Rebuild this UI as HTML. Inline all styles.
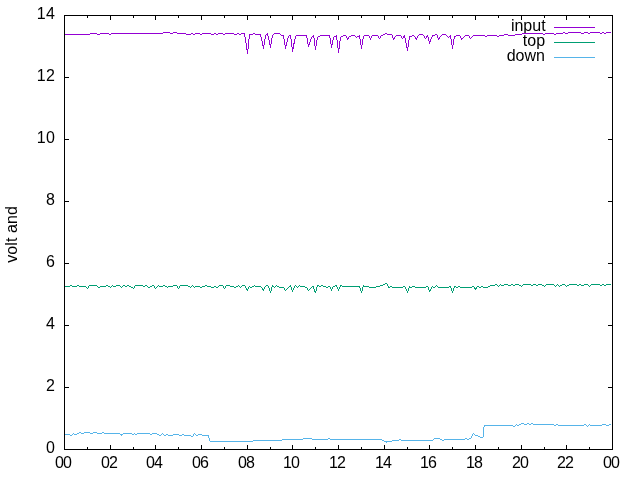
<!DOCTYPE html>
<html><head><meta charset="utf-8"><title>plot</title>
<style>
html,body{margin:0;padding:0;background:#fff;}
body{width:640px;height:480px;overflow:hidden;}
svg{display:block;will-change:transform;}
text{font-family:"Liberation Sans",sans-serif;font-size:16px;fill:#000;}
.n{letter-spacing:-0.55px;}
.w{letter-spacing:0.1px;}
</style></head><body>
<svg width="640" height="480" viewBox="0 0 640 480">
<rect x="0" y="0" width="640" height="480" fill="#ffffff"/>
<path d="M64.5 449.5v-4.5M64.5 15.5v4.5M87.5 449.5v-2.5M87.5 15.5v2.5M110.5 449.5v-4.5M110.5 15.5v4.5M133.5 449.5v-2.5M133.5 15.5v2.5M155.5 449.5v-4.5M155.5 15.5v4.5M178.5 449.5v-2.5M178.5 15.5v2.5M201.5 449.5v-4.5M201.5 15.5v4.5M224.5 449.5v-2.5M224.5 15.5v2.5M247.5 449.5v-4.5M247.5 15.5v4.5M270.5 449.5v-2.5M270.5 15.5v2.5M292.5 449.5v-4.5M292.5 15.5v4.5M315.5 449.5v-2.5M315.5 15.5v2.5M338.5 449.5v-4.5M338.5 15.5v4.5M361.5 449.5v-2.5M361.5 15.5v2.5M384.5 449.5v-4.5M384.5 15.5v4.5M407.5 449.5v-2.5M407.5 15.5v2.5M429.5 449.5v-4.5M429.5 15.5v4.5M452.5 449.5v-2.5M452.5 15.5v2.5M475.5 449.5v-4.5M475.5 15.5v4.5M498.5 449.5v-2.5M498.5 15.5v2.5M521.5 449.5v-4.5M521.5 15.5v4.5M544.5 449.5v-2.5M544.5 15.5v2.5M566.5 449.5v-4.5M566.5 15.5v4.5M589.5 449.5v-2.5M589.5 15.5v2.5M612.5 449.5v-4.5M612.5 15.5v4.5M64.5 449.5h4.5M612.5 449.5h-4.5M64.5 387.5h4.5M612.5 387.5h-4.5M64.5 325.5h4.5M612.5 325.5h-4.5M64.5 263.5h4.5M612.5 263.5h-4.5M64.5 201.5h4.5M612.5 201.5h-4.5M64.5 139.5h4.5M612.5 139.5h-4.5M64.5 77.5h4.5M612.5 77.5h-4.5M64.5 15.5h4.5M612.5 15.5h-4.5" stroke="#000" stroke-width="1" fill="none" shape-rendering="crispEdges"/>
<text x="55.00 63.10" y="468">00</text>
<text x="101.00 109.10" y="468">02</text>
<text x="146.00 154.10" y="468">04</text>
<text x="192.00 200.10" y="468">06</text>
<text x="238.00 246.10" y="468">08</text>
<text x="283.00 291.10" y="468">10</text>
<text x="329.00 337.10" y="468">12</text>
<text x="375.00 383.10" y="468">14</text>
<text x="420.00 428.10" y="468">16</text>
<text x="466.00 474.10" y="468">18</text>
<text x="512.00 520.10" y="468">20</text>
<text x="557.00 565.10" y="468">22</text>
<text x="603.00 611.10" y="468">00</text>
<text x="46.0" y="453.2">0</text>
<text x="46.0" y="391.2">2</text>
<text x="46.0" y="329.2">4</text>
<text x="46.0" y="267.2">6</text>
<text x="46.0" y="205.2">8</text>
<text x="36.8 46.0" y="143.2">10</text>
<text x="36.8 46.0" y="81.2">12</text>
<text x="36.8 46.0" y="19.2">14</text>
<text class="w" transform="translate(16.6,234.4) rotate(-90)" text-anchor="middle">volt and</text>
<text x="545.6" y="31.0" text-anchor="end">input</text>
<path d="M554 27.5H595" stroke="#9400d3" stroke-width="1" fill="none" shape-rendering="crispEdges"/>
<text x="545.1" y="46.0" text-anchor="end">top</text>
<path d="M554 42.5H595" stroke="#009e73" stroke-width="1" fill="none" shape-rendering="crispEdges"/>
<text x="544.9" y="61.0" text-anchor="end">down</text>
<path d="M554 57.5H595" stroke="#56b4e9" stroke-width="1" fill="none" shape-rendering="crispEdges"/>
<path d="M64 34h26v1h-26zM90 33h7v1h-7zM97 34h3v1h-3zM100 33h9v1h-9zM109 34h2v1h-2zM111 33h52v1h-52zM163 32h7v1h-7zM170 33h3v1h-3zM173 32h4v1h-4zM177 33h9v1h-9zM186 34h5v1h-5zM191 33h2v1h-2zM193 34h2v1h-2zM195 33h5v1h-5zM200 34h2v1h-2zM202 33h9v1h-9zM211 34h3v1h-3zM214 33h2v1h-2zM216 34h2v1h-2zM218 33h5v1h-5zM223 34h2v1h-2zM225 33h9v1h-9zM234 34h3v1h-3zM237 33h2v1h-2zM239 34h2v1h-2zM241 33h3v1h-3zM244 33h1v4h-1zM245 37h1v6h-1zM246 43h1v7h-1zM247 49h1v5h-1zM248 39h1v10h-1zM249 34h1v5h-1zM250 34h3v1h-3zM253 33h2v1h-2zM255 34h5v1h-5zM260 34h1v3h-1zM261 37h1v4h-1zM262 41h1v5h-1zM263 45h1v4h-1zM264 39h1v6h-1zM265 35h1v4h-1zM266 34h1v1h-1zM267 33h1v3h-1zM268 36h1v4h-1zM269 40h1v5h-1zM270 44h1v4h-1zM271 38h1v6h-1zM272 35h1v3h-1zM273 34h1v1h-1zM274 33h6v1h-6zM280 34h1v1h-1zM281 35h2v1h-2zM283 35h1v4h-1zM284 39h1v6h-1zM285 45h1v4h-1zM286 42h1v4h-1zM287 38h1v4h-1zM288 36h1v2h-1zM289 35h1v1h-1zM290 35h1v4h-1zM291 39h1v8h-1zM292 47h1v5h-1zM293 43h1v6h-1zM294 39h1v5h-1zM295 36h1v3h-1zM296 35h10v1h-10zM306 35h1v3h-1zM307 38h1v6h-1zM308 44h1v3h-1zM309 42h1v3h-1zM310 39h1v3h-1zM311 37h1v2h-1zM312 36h1v1h-1zM313 35h1v3h-1zM314 38h1v8h-1zM315 46h1v4h-1zM316 40h1v6h-1zM317 37h1v3h-1zM318 36h2v1h-2zM320 35h9v1h-9zM329 35h1v3h-1zM330 38h1v6h-1zM331 44h1v4h-1zM332 40h1v5h-1zM333 37h1v3h-1zM334 36h2v1h-2zM336 35h1v5h-1zM337 40h1v8h-1zM338 48h1v5h-1zM339 41h1v8h-1zM340 37h1v4h-1zM341 36h2v1h-2zM343 35h3v1h-3zM346 36h1v2h-1zM347 38h1v2h-1zM348 37h1v2h-1zM349 36h2v1h-2zM351 35h4v1h-4zM355 36h1v1h-1zM356 37h1v1h-1zM357 36h2v1h-2zM359 35h1v4h-1zM360 39h1v6h-1zM361 45h1v4h-1zM362 39h1v6h-1zM363 36h1v3h-1zM364 35h5v1h-5zM369 36h1v2h-1zM370 38h1v2h-1zM371 36h1v2h-1zM372 35h6v1h-6zM378 36h1v2h-1zM379 38h1v1h-1zM380 36h1v2h-1zM381 35h2v1h-2zM383 34h2v1h-2zM385 33h2v1h-2zM387 34h5v1h-5zM392 35h1v3h-1zM393 38h1v2h-1zM394 37h1v2h-1zM395 36h1v1h-1zM396 35h5v1h-5zM401 36h1v2h-1zM402 38h1v1h-1zM403 36h1v2h-1zM404 35h1v3h-1zM405 38h1v5h-1zM406 43h1v5h-1zM407 47h1v4h-1zM408 40h1v7h-1zM409 36h1v4h-1zM410 36h2v1h-2zM412 35h2v1h-2zM414 36h1v1h-1zM415 37h1v2h-1zM416 38h1v2h-1zM417 36h1v2h-1zM418 35h1v1h-1zM419 34h4v1h-4zM423 35h1v1h-1zM424 36h1v2h-1zM425 38h1v1h-1zM426 36h1v2h-1zM427 35h1v2h-1zM428 37h1v4h-1zM429 41h1v3h-1zM430 39h1v3h-1zM431 37h1v2h-1zM432 35h1v2h-1zM433 35h2v1h-2zM435 34h2v1h-2zM437 35h1v3h-1zM438 38h1v2h-1zM439 37h1v2h-1zM440 36h1v1h-1zM441 35h1v1h-1zM442 34h4v1h-4zM446 35h1v1h-1zM447 36h1v1h-1zM448 37h1v1h-1zM449 36h1v1h-1zM450 35h1v4h-1zM451 39h1v6h-1zM452 45h1v4h-1zM453 39h1v6h-1zM454 36h1v3h-1zM455 36h1v1h-1zM456 35h4v1h-4zM460 36h1v2h-1zM461 38h1v2h-1zM462 38h1v1h-1zM463 37h1v1h-1zM464 36h1v1h-1zM465 35h4v1h-4zM469 36h1v2h-1zM470 38h1v1h-1zM471 37h1v1h-1zM472 36h1v1h-1zM473 35h12v1h-12zM485 36h2v1h-2zM487 35h10v1h-10zM497 36h2v1h-2zM499 35h5v1h-5zM504 34h4v1h-4zM508 35h7v1h-7zM515 34h7v1h-7zM522 33h21v1h-21zM543 34h2v1h-2zM545 33h9v1h-9zM554 34h2v1h-2zM556 33h7v1h-7zM563 32h2v1h-2zM565 33h3v1h-3zM568 32h13v1h-13zM581 33h3v1h-3zM584 32h4v1h-4zM588 33h2v1h-2zM590 32h10v1h-10zM600 33h2v1h-2zM602 32h2v1h-2zM604 33h2v1h-2zM606 32h5v1h-5z" fill="#9400d3" stroke="none" shape-rendering="crispEdges"/>
<path d="M64 286h6v1h-6zM70 285h2v1h-2zM72 286h5v1h-5zM77 285h2v1h-2zM79 286h7v1h-7zM86 287h1v1h-1zM87 288h1v1h-1zM88 286h1v2h-1zM89 285h8v1h-8zM97 286h1v1h-1zM98 287h2v1h-2zM100 286h6v1h-6zM106 285h2v1h-2zM108 286h2v1h-2zM110 287h1v1h-1zM111 286h1v1h-1zM112 285h1v1h-1zM113 286h3v1h-3zM116 285h4v1h-4zM120 286h1v1h-1zM121 287h1v1h-1zM122 286h1v1h-1zM123 285h2v1h-2zM125 286h2v1h-2zM127 285h2v1h-2zM129 286h2v1h-2zM131 287h2v1h-2zM133 288h1v1h-1zM134 286h1v2h-1zM135 285h8v1h-8zM143 286h2v1h-2zM145 285h2v1h-2zM147 286h1v1h-1zM148 287h2v1h-2zM150 286h2v1h-2zM152 285h2v1h-2zM154 286h1v2h-1zM155 288h1v1h-1zM156 287h1v1h-1zM157 286h1v1h-1zM158 285h1v1h-1zM159 286h4v1h-4zM163 285h2v1h-2zM165 286h2v1h-2zM167 287h1v1h-1zM168 286h5v1h-5zM173 285h4v1h-4zM177 286h1v2h-1zM178 288h1v1h-1zM179 286h1v2h-1zM180 285h8v1h-8zM188 286h2v1h-2zM190 287h1v1h-1zM191 286h1v1h-1zM192 285h1v1h-1zM193 286h1v1h-1zM194 287h1v1h-1zM195 286h5v1h-5zM200 287h2v1h-2zM202 286h3v1h-3zM205 285h2v1h-2zM207 286h4v1h-4zM211 287h3v1h-3zM214 286h2v1h-2zM216 287h2v1h-2zM218 286h1v1h-1zM219 285h4v1h-4zM223 286h1v2h-1zM224 288h1v1h-1zM225 286h1v2h-1zM226 285h4v1h-4zM230 286h4v1h-4zM234 287h2v1h-2zM236 286h2v1h-2zM238 285h1v1h-1zM239 286h1v1h-1zM240 287h1v1h-1zM241 286h1v1h-1zM242 285h3v1h-3zM245 286h1v2h-1zM246 288h1v2h-1zM247 289h1v2h-1zM248 287h1v2h-1zM249 286h1v1h-1zM250 287h2v1h-2zM252 286h2v1h-2zM254 285h1v1h-1zM255 286h6v1h-6zM261 287h1v1h-1zM262 288h1v2h-1zM263 289h1v2h-1zM264 287h1v2h-1zM265 286h1v1h-1zM266 285h2v1h-2zM268 286h1v2h-1zM269 288h1v3h-1zM270 291h1v2h-1zM271 287h1v4h-1zM272 285h1v2h-1zM273 286h1v1h-1zM274 287h1v1h-1zM275 286h1v1h-1zM276 285h1v1h-1zM277 286h2v1h-2zM279 287h5v1h-5zM284 288h1v2h-1zM285 290h1v1h-1zM286 289h1v1h-1zM287 288h1v1h-1zM288 287h1v1h-1zM289 286h1v1h-1zM290 285h1v2h-1zM291 287h1v3h-1zM292 290h1v2h-1zM293 288h1v2h-1zM294 286h1v2h-1zM295 285h1v1h-1zM296 286h1v1h-1zM297 287h1v1h-1zM298 286h1v1h-1zM299 285h1v1h-1zM300 286h5v1h-5zM305 287h2v1h-2zM307 288h1v2h-1zM308 290h1v1h-1zM309 289h1v1h-1zM310 288h1v1h-1zM311 287h1v1h-1zM312 286h1v1h-1zM313 286h1v3h-1zM314 289h1v3h-1zM315 291h1v2h-1zM316 287h1v4h-1zM317 285h1v2h-1zM318 285h1v1h-1zM319 286h2v1h-2zM321 285h2v1h-2zM323 286h3v1h-3zM326 287h2v1h-2zM328 286h2v1h-2zM330 287h1v2h-1zM331 289h1v2h-1zM332 287h1v2h-1zM333 286h2v1h-2zM335 285h1v1h-1zM336 285h1v2h-1zM337 287h1v2h-1zM338 289h1v2h-1zM339 287h1v2h-1zM340 285h1v2h-1zM341 285h1v1h-1zM342 286h17v1h-17zM359 286h1v2h-1zM360 288h1v3h-1zM361 291h1v2h-1zM362 287h1v4h-1zM363 285h1v2h-1zM364 286h5v1h-5zM369 287h7v1h-7zM376 286h4v1h-4zM380 285h3v1h-3zM383 284h2v1h-2zM385 283h2v1h-2zM387 284h1v2h-1zM388 286h1v2h-1zM389 287h1v1h-1zM390 286h2v1h-2zM392 287h11v1h-11zM403 286h2v1h-2zM405 287h1v2h-1zM406 289h1v2h-1zM407 291h1v2h-1zM408 288h1v3h-1zM409 286h1v2h-1zM410 287h2v1h-2zM412 286h3v1h-3zM415 287h11v1h-11zM426 286h2v1h-2zM428 287h1v3h-1zM429 290h1v2h-1zM430 289h1v2h-1zM431 287h1v2h-1zM432 286h1v1h-1zM433 287h2v1h-2zM435 286h1v1h-1zM436 285h1v1h-1zM437 286h1v1h-1zM438 287h11v1h-11zM449 286h1v1h-1zM450 286h1v2h-1zM451 288h1v3h-1zM452 291h1v2h-1zM453 288h1v3h-1zM454 286h1v2h-1zM455 286h1v1h-1zM456 287h2v1h-2zM458 286h2v1h-2zM460 287h12v1h-12zM472 286h2v1h-2zM474 287h1v2h-1zM475 288h1v2h-1zM476 287h1v2h-1zM477 286h2v1h-2zM479 287h2v1h-2zM481 286h2v1h-2zM483 287h5v1h-5zM488 286h2v1h-2zM490 285h5v1h-5zM495 284h2v1h-2zM497 285h1v1h-1zM498 286h1v1h-1zM499 285h1v1h-1zM500 284h1v1h-1zM501 285h3v1h-3zM504 284h4v1h-4zM508 285h3v1h-3zM511 284h2v1h-2zM513 285h2v1h-2zM515 284h4v1h-4zM519 285h2v1h-2zM521 286h1v1h-1zM522 285h1v1h-1zM523 284h8v1h-8zM531 285h2v1h-2zM533 284h3v1h-3zM536 285h2v1h-2zM538 284h4v1h-4zM542 285h2v1h-2zM544 286h1v1h-1zM545 285h1v1h-1zM546 284h8v1h-8zM554 285h1v1h-1zM555 286h1v1h-1zM556 285h1v1h-1zM557 284h1v1h-1zM558 285h1v1h-1zM559 286h1v1h-1zM560 285h2v1h-2zM562 284h3v1h-3zM565 285h1v1h-1zM566 286h1v1h-1zM567 285h2v1h-2zM569 284h8v1h-8zM577 285h2v1h-2zM579 284h2v1h-2zM581 285h3v1h-3zM584 284h4v1h-4zM588 285h1v1h-1zM589 286h1v1h-1zM590 285h1v1h-1zM591 284h9v1h-9zM600 285h2v1h-2zM602 284h2v1h-2zM604 285h2v1h-2zM606 284h5v1h-5z" fill="#009e73" stroke="none" shape-rendering="crispEdges"/>
<path d="M64 434h6v1h-6zM70 435h2v1h-2zM72 434h1v1h-1zM73 433h1v1h-1zM74 434h3v1h-3zM77 433h2v1h-2zM79 432h2v1h-2zM81 433h3v1h-3zM84 432h6v1h-6zM90 433h3v1h-3zM93 432h4v1h-4zM97 433h5v1h-5zM102 432h2v1h-2zM104 433h16v1h-16zM120 434h1v1h-1zM121 434h1v2h-1zM122 434h1v1h-1zM123 433h9v1h-9zM132 434h2v1h-2zM134 433h1v1h-1zM135 434h2v1h-2zM137 433h13v1h-13zM150 434h2v1h-2zM152 433h5v1h-5zM157 434h2v1h-2zM159 435h2v1h-2zM161 434h1v1h-1zM162 433h1v1h-1zM163 434h1v1h-1zM164 435h2v1h-2zM166 434h2v1h-2zM168 435h5v1h-5zM173 434h6v1h-6zM179 435h3v1h-3zM182 434h2v1h-2zM184 435h7v1h-7zM191 436h2v1h-2zM193 434h1v2h-1zM194 433h1v1h-1zM195 434h1v1h-1zM196 435h2v1h-2zM198 434h4v1h-4zM202 435h6v1h-6zM208 435h1v3h-1zM209 438h1v3h-1zM210 441h43v1h-43zM253 440h29v1h-29zM282 439h21v1h-21zM303 438h9v1h-9zM312 439h16v1h-16zM328 438h2v1h-2zM330 439h52v1h-52zM382 440h2v1h-2zM384 441h2v1h-2zM386 441h1v2h-1zM387 441h5v1h-5zM392 440h7v1h-7zM399 439h2v1h-2zM401 440h32v1h-32zM433 439h1v1h-1zM434 438h6v1h-6zM440 439h2v1h-2zM442 440h2v1h-2zM444 439h21v1h-21zM465 438h2v1h-2zM467 439h2v1h-2zM469 438h2v1h-2zM471 436h1v2h-1zM472 434h1v2h-1zM473 433h1v1h-1zM474 434h1v1h-1zM475 435h3v1h-3zM478 436h2v1h-2zM480 437h3v1h-3zM483 427h1v10h-1zM484 425h1v2h-1zM485 425h28v1h-28zM513 426h2v1h-2zM515 425h1v1h-1zM516 424h1v1h-1zM517 425h2v1h-2zM519 424h2v1h-2zM521 423h3v1h-3zM524 424h3v1h-3zM527 423h2v1h-2zM529 424h2v1h-2zM531 423h2v1h-2zM533 424h21v1h-21zM554 425h2v1h-2zM556 424h2v1h-2zM558 425h26v1h-26zM584 424h2v1h-2zM586 425h1v1h-1zM587 426h1v1h-1zM588 425h1v1h-1zM589 424h1v1h-1zM590 425h12v1h-12zM602 424h4v1h-4zM606 425h3v1h-3zM609 424h2v1h-2z" fill="#56b4e9" stroke="none" shape-rendering="crispEdges"/>
<rect x="64.5" y="15.5" width="548.0" height="434.0" fill="none" stroke="#000" stroke-width="1" shape-rendering="crispEdges"/>
</svg></body></html>
